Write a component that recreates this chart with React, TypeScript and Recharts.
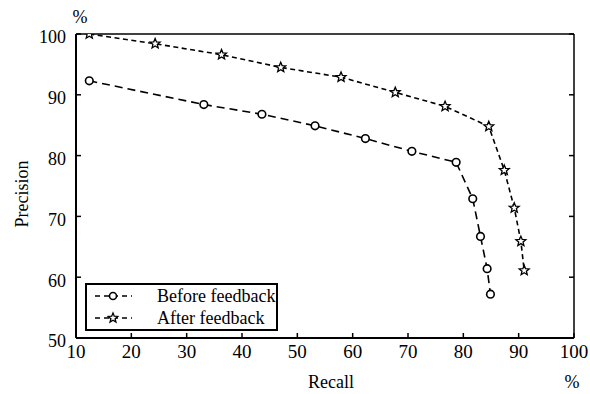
import React from 'react';
import { LineChart, Line, XAxis, YAxis, Legend } from 'recharts';

const recallBefore = [12.4, 33.1, 43.6, 53.2, 62.3, 70.7, 78.7, 81.7, 83.1, 84.3, 84.9];
const precisionBefore = [92.3, 88.4, 86.8, 84.9, 82.8, 80.7, 78.9, 72.9, 66.7, 61.4, 57.2];

const recallAfter = [12.4, 24.3, 36.3, 47.0, 57.9, 67.7, 76.7, 84.6, 87.4, 89.2, 90.4, 91.0];
const precisionAfter = [100, 98.4, 96.6, 94.5, 92.9, 90.4, 88.1, 84.8, 77.6, 71.4, 65.9, 61.1];

const xTicks = [10, 20, 30, 40, 50, 60, 70, 80, 90, 100];
const yTicks = [50, 60, 70, 80, 90, 100];

const seriesNames = ['Before feedback', 'After feedback'];
const xLabel = 'Recall';
const yLabel = 'Precision';
const unitLabel = '%';

const beforeData = recallBefore.map((r, i) => ({ recall: r, precision: precisionBefore[i] }));
const afterData = recallAfter.map((r, i) => ({ recall: r, precision: precisionAfter[i] }));

const FONT = '"Liberation Serif", "Times New Roman", serif';

function starPath(cx: number, cy: number, R: number, r: number) {
  const pts: string[] = [];
  for (let k = 0; k < 10; k++) {
    const rad = k % 2 === 0 ? R : r;
    const a = -Math.PI / 2 + (k * Math.PI) / 5;
    pts.push(`${(cx + rad * Math.cos(a)).toFixed(2)},${(cy + rad * Math.sin(a)).toFixed(2)}`);
  }
  return pts.join(' ');
}

const CircleDot = (p: any) => {
  if (p.cx == null || p.cy == null) return <g key={p.key} />;
  return <circle key={p.key} cx={p.cx} cy={p.cy} r={3.8} fill="#fff" stroke="#000" strokeWidth={1.6} />;
};

const StarDot = (p: any) => {
  if (p.cx == null || p.cy == null) return <g key={p.key} />;
  return <polygon key={p.key} points={starPath(p.cx, p.cy, 5.2, 2.3)} fill="#fff" stroke="#000" strokeWidth={1.3} />;
};

const EmptyTick = () => <g />;

const LegendContent = () => (
  <div
    style={{
      border: '2px solid #000',
      background: '#fff',
      width: 189,
      height: 44,
      fontFamily: FONT,
      fontSize: 18,
      color: '#000',
      position: 'relative',
    }}
  >
    {seriesNames.map((name, i) => (
      <div key={name} style={{ position: 'absolute', left: 0, top: i === 0 ? 0 : 22, height: 22, display: 'flex', alignItems: 'center' }}>
        <svg width={70} height={22} style={{ display: 'block' }}>
          <line x1={8} x2={45} y1={11} y2={11} stroke="#000" strokeWidth={1.6} strokeDasharray="5 4" />
          {i === 0 ? (
            <circle cx={26} cy={11} r={3.5} fill="#fff" stroke="#000" strokeWidth={1.6} />
          ) : (
            <polygon points={starPath(26, 11, 5, 2.2)} fill="#fff" stroke="#000" strokeWidth={1.3} />
          )}
        </svg>
        <span style={{ lineHeight: '22px', whiteSpace: 'nowrap' }}>{name}</span>
      </div>
    ))}
  </div>
);

const YAxisLabel = (props: any) => {
  const vb = props.viewBox || {};
  const cx = vb.x + 6;
  const cy = vb.y + vb.height / 2 + 8;
  return (
    <g>
      <text x={cx} y={cy} transform={`rotate(-90, ${cx}, ${cy})`} textAnchor="middle" dominantBaseline="central" fontFamily={FONT} fontSize={18} fill="#000">
        {yLabel}
      </text>
      <text x={vb.x + vb.width + 4} y={vb.y - 11} textAnchor="middle" fontFamily={FONT} fontSize={18} fill="#000">
        {unitLabel}
      </text>
    </g>
  );
};

const XAxisLabel = (props: any) => {
  const vb = props.viewBox || {};
  return (
    <g>
      <text x={vb.x + vb.width / 2 + 6} y={vb.y + 50} textAnchor="middle" fontFamily={FONT} fontSize={18} fill="#000">
        {xLabel}
      </text>
      <text x={vb.x + vb.width - 2} y={vb.y + 50} textAnchor="middle" fontFamily={FONT} fontSize={18} fill="#000">
        {unitLabel}
      </text>
    </g>
  );
};

const tickStyle = { fontSize: 18, fill: '#000', fontFamily: FONT };

export default function App() {
  return (
    <div style={{ position: 'absolute', left: 0, top: 0, width: 590, height: 394, background: '#fff' }}>
      <LineChart width={590} height={394} margin={{ top: 33, right: 15, bottom: 26, left: 16 }}>
        <XAxis
          xAxisId="bottom"
          type="number"
          dataKey="recall"
          domain={[10, 100]}
          ticks={xTicks}
          interval={0}
          height={30}
          tickSize={-5}
          tickMargin={12}
          tick={{ ...tickStyle, fontSize: 19 }}
          axisLine={{ stroke: '#000', strokeWidth: 2 }}
          tickLine={{ stroke: '#000', strokeWidth: 1.5 }}
          allowDataOverflow
          label={XAxisLabel}
        />
        <XAxis
          xAxisId="top"
          orientation="top"
          type="number"
          domain={[10, 100]}
          ticks={xTicks}
          interval={0}
          height={1}
          tickSize={-5}
          tick={EmptyTick}
          axisLine={{ stroke: '#000', strokeWidth: 1.5 }}
          tickLine={{ stroke: '#000', strokeWidth: 1.5 }}
          allowDataOverflow
        />
        <YAxis
          yAxisId="left"
          type="number"
          domain={[50, 100]}
          ticks={yTicks}
          interval={0}
          width={60}
          tickSize={-5}
          tickMargin={15}
          tick={{ ...tickStyle, dy: 3 }}
          axisLine={{ stroke: '#000', strokeWidth: 2 }}
          tickLine={{ stroke: '#000', strokeWidth: 1.5 }}
          allowDataOverflow
          label={YAxisLabel}
        />
        <YAxis
          yAxisId="right"
          orientation="right"
          type="number"
          domain={[50, 100]}
          ticks={yTicks}
          interval={0}
          width={1}
          tickSize={-5}
          tick={EmptyTick}
          axisLine={{ stroke: '#000', strokeWidth: 1.5 }}
          tickLine={{ stroke: '#000', strokeWidth: 1.5 }}
          allowDataOverflow
        />
        <Line
          xAxisId="bottom"
          yAxisId="left"
          data={beforeData}
          dataKey="precision"
          name={seriesNames[0]}
          type="linear"
          stroke="#000"
          strokeWidth={1.6}
          strokeDasharray="8 5"
          dot={CircleDot}
          activeDot={false}
          isAnimationActive={false}
        />
        <Line
          xAxisId="bottom"
          yAxisId="left"
          data={afterData}
          dataKey="precision"
          name={seriesNames[1]}
          type="linear"
          stroke="#000"
          strokeWidth={1.6}
          strokeDasharray="5 3.5"
          dot={StarDot}
          activeDot={false}
          isAnimationActive={false}
        />
        <Legend
          layout="horizontal"
          verticalAlign="middle"
          align="center"
          content={LegendContent}
          wrapperStyle={{ position: 'absolute', left: 85, top: 283, width: 193, height: 48, margin: 0, padding: 0 }}
        />
      </LineChart>
    </div>
  );
}
